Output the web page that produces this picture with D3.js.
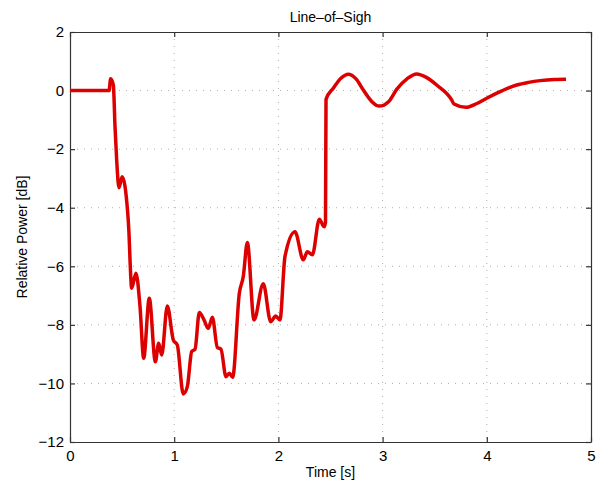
<!DOCTYPE html>
<html>
<head>
<meta charset="utf-8">
<script src="https://cdn.jsdelivr.net/npm/d3@7"></script>
<style>
  body { margin: 0; background: #fff; }
  text { font-family: "Liberation Sans", Arial, Helvetica, sans-serif; fill: #000; }
</style>
</head>
<body>
<svg id="chart" width="608" height="489"></svg>
<script>
// values
var timeS = [0, 0.375, 0.39, 0.416, 0.432, 0.448, 0.47, 0.5, 0.554, 0.566, 0.576, 0.592, 0.633, 0.672,
  0.707, 0.761, 0.819, 0.851, 0.88, 0.934, 0.992, 1.03, 1.087, 1.126, 1.168, 1.2, 1.241, 1.286,
  1.327, 1.366, 1.414, 1.449, 1.497, 1.529, 1.561, 1.625, 1.663, 1.702, 1.766, 1.855, 1.926,
  1.974, 2.015, 2.063, 2.159, 2.239, 2.278, 2.326, 2.393, 2.438, 2.452, 2.457, 2.527, 2.6, 2.671,
  2.745, 2.815, 2.895, 2.969, 3.059, 3.135, 3.237, 3.327, 3.42, 3.519, 3.663, 3.685, 3.797, 3.9,
  3.999, 4.15, 4.287, 4.4, 4.511, 4.65, 4.76];
var powerDb = [0, 0, 0.4, 0.19, -1.23, -2.37, -3.32, -2.94, -4.18, -4.86, -5.78, -6.75, -6.24, -7.38,
  -9.14, -7.09, -9.26, -8.63, -9.03, -7.36, -8.52, -8.69, -10.36, -10.11, -8.91, -8.83, -7.58, -7.83,
  -8.12, -7.74, -8.77, -8.83, -9.77, -9.65, -9.79, -6.92, -6.35, -5.19, -7.83, -6.6, -7.89,
  -7.7, -7.83, -5.67, -4.82, -5.78, -5.5, -5.61, -4.39, -4.65, -4.5, -0.3, 0.08, 0.42, 0.56,
  0.4, 0.02, -0.37, -0.53, -0.37, 0.04, 0.41, 0.57, 0.45, 0.19, -0.32, -0.46, -0.57, -0.45,
  -0.26, 0.0, 0.19, 0.28, 0.34, 0.38, 0.39];
var xTicks = [0, 1, 2, 3, 4, 5];
var yTicks = [2, 0, -2, -4, -6, -8, -10, -12];

var svg = d3.select("#chart");
var plotL = 70, plotR = 591, plotT = 32, plotB = 442;

var x = d3.scaleLinear().domain([0, 5]).range([plotL, plotR]);
var y = d3.scaleLinear().domain([-12, 2]).range([plotB, plotT]);

function fmt(v) { return v < 0 ? "\u2212" + Math.abs(v) : String(v); }

// grid
var grid = svg.append("g").attr("stroke", "#999").attr("stroke-width", 0.8)
  .attr("stroke-dasharray", "1,6");
grid.selectAll("line.gx").data(xTicks.slice(1, -1)).enter().append("line")
  .attr("x1", function (d) { return x(d); }).attr("x2", function (d) { return x(d); })
  .attr("y1", plotT).attr("y2", plotB);
grid.selectAll("line.gy").data(yTicks.slice(1, -1)).enter().append("line")
  .attr("x1", plotL).attr("x2", plotR)
  .attr("y1", function (d) { return y(d); }).attr("y2", function (d) { return y(d); });

// axes, matlab-style inner ticks on all sides
var frame = svg.append("g");
frame.append("g").attr("transform", "translate(0," + plotB + ")")
  .call(d3.axisBottom(x).tickValues(xTicks).tickSizeInner(-5).tickSizeOuter(0).tickPadding(8).tickFormat(fmt));
frame.append("g").attr("transform", "translate(0," + plotT + ")")
  .call(d3.axisTop(x).tickValues(xTicks).tickSizeInner(-5).tickSizeOuter(0).tickFormat(""));
frame.append("g").attr("transform", "translate(" + plotL + ",0)")
  .call(d3.axisLeft(y).tickValues(yTicks).tickSizeInner(-5).tickSizeOuter(0).tickPadding(6).tickFormat(fmt));
frame.append("g").attr("transform", "translate(" + plotR + ",0)")
  .call(d3.axisRight(y).tickValues(yTicks).tickSizeInner(-5).tickSizeOuter(0).tickFormat(""));
frame.selectAll(".domain, .tick line").attr("stroke", "#333").attr("stroke-width", 1.2);
frame.selectAll(".tick text").attr("font-size", 15)
  .attr("font-family", "Liberation Sans, Arial, sans-serif").attr("fill", "#000");

// curve
var line = d3.line()
  .x(function (d, i) { return x(timeS[i]); })
  .y(function (d) { return y(d); })
  .curve(d3.curveMonotoneX);
svg.append("path").datum(powerDb)
  .attr("fill", "none").attr("stroke", "#dd0000").attr("stroke-width", 3.5)
  .attr("stroke-linejoin", "round").attr("d", line);

// labels
svg.append("text").attr("x", (plotL + plotR) / 2).attr("y", 22)
  .attr("text-anchor", "middle").attr("font-size", 14).text("Line\u2013of\u2013Sigh");
svg.append("text").attr("x", (plotL + plotR) / 2).attr("y", 477)
  .attr("text-anchor", "middle").attr("font-size", 14).text("Time [s]");
svg.append("text").attr("transform", "translate(27," + (plotT + plotB) / 2 + ") rotate(-90)")
  .attr("text-anchor", "middle").attr("font-size", 14).text("Relative Power [dB]");
</script>
</body>
</html>
